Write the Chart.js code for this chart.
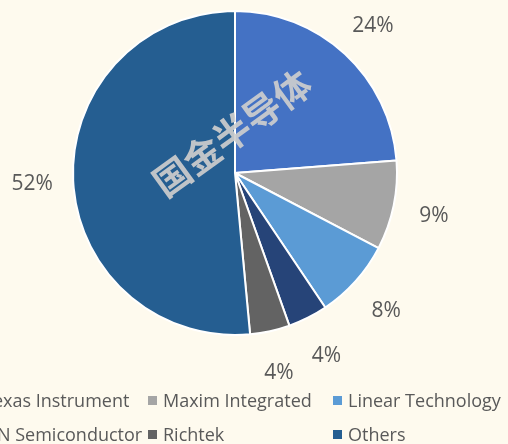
<!DOCTYPE html>
<html>
<head>
<meta charset="utf-8">
<script src="https://cdn.jsdelivr.net/npm/chart.js@4/dist/chart.umd.min.js"></script>
<style>
  html, body { margin: 0; padding: 0; background: #FEFAEE; overflow: hidden; }
  #wrap { position: relative; width: 508px; height: 444px; overflow: hidden; }
  #c { position: absolute; left: 0; top: 0; }
  .lg { position: absolute; font-family: "Open Sans", "Noto Sans", sans-serif; font-size: 18px; color: #595959; white-space: nowrap; line-height: 20px; }
  .lg i { display: inline-block; width: 9px; height: 9px; margin-right: 6px; vertical-align: 2px; }
</style>
</head>
<body>
<div id="wrap">
  <canvas id="c" width="508" height="444"></canvas>
</div>
<script>
const categories = ["Texas Instrument", "Maxim Integrated", "Linear Technology", "ON Semiconductor", "Richtek", "Others"];
const shares = [24, 9, 8, 4, 4, 52];
const colors = ["#4472C4", "#A5A5A5", "#5B9BD5", "#264478", "#636363", "#255E91"];

// legend grid positions (column x of the marker, row y)
const legendCols = [-32, 148, 333];
const legendRows = [390, 424];

const wrap = document.getElementById('wrap');
categories.forEach((name, i) => {
  const d = document.createElement('div');
  d.className = 'lg';
  d.style.left = legendCols[i % 3] + 'px';
  d.style.top = legendRows[Math.floor(i / 3)] + 'px';
  d.innerHTML = '<i style="background:' + colors[i] + '"></i>' + name;
  wrap.appendChild(d);
});

const outsideLabels = {
  id: 'outsideLabels',
  afterDatasetsDraw(chart) {
    const ctx = chart.ctx;
    const meta = chart.getDatasetMeta(0);
    ctx.save();
    ctx.fillStyle = '#595959';
    ctx.font = '21px "Open Sans", "Noto Sans", sans-serif';
    ctx.textAlign = 'center';
    ctx.textBaseline = 'middle';
    meta.data.forEach((arc, i) => {
      const p = arc.getProps(['x', 'y', 'startAngle', 'endAngle', 'outerRadius'], true);
      const mid = (p.startAngle + p.endAngle) / 2;
      const r = p.outerRadius + 41;
      ctx.fillText(shares[i] + '%', p.x + Math.cos(mid) * r, p.y + Math.sin(mid) * r + 2);
    });
    // watermark
    const a = meta.data[0];
    ctx.translate(a.x - 3, a.y - 40);
    ctx.rotate(-36 * Math.PI / 180);
    ctx.font = 'bold 37px "Noto Sans CJK SC", sans-serif';
    ctx.fillStyle = 'rgba(205,205,205,0.92)';
    ctx.fillText('国金半导体', 0, 0);
    ctx.restore();
  }
};

new Chart(document.getElementById('c'), {
  type: 'pie',
  data: {
    labels: categories,
    datasets: [{
      data: shares,
      backgroundColor: colors,
      borderColor: '#FFFFFF',
      borderWidth: 2
    }]
  },
  options: {
    responsive: false,
    animation: false,
    layout: { padding: { left: 72, right: 110, top: 10, bottom: 108 } },
    plugins: {
      legend: { display: false },
      tooltip: { enabled: false }
    }
  },
  plugins: [outsideLabels]
});
</script>
</body>
</html>
